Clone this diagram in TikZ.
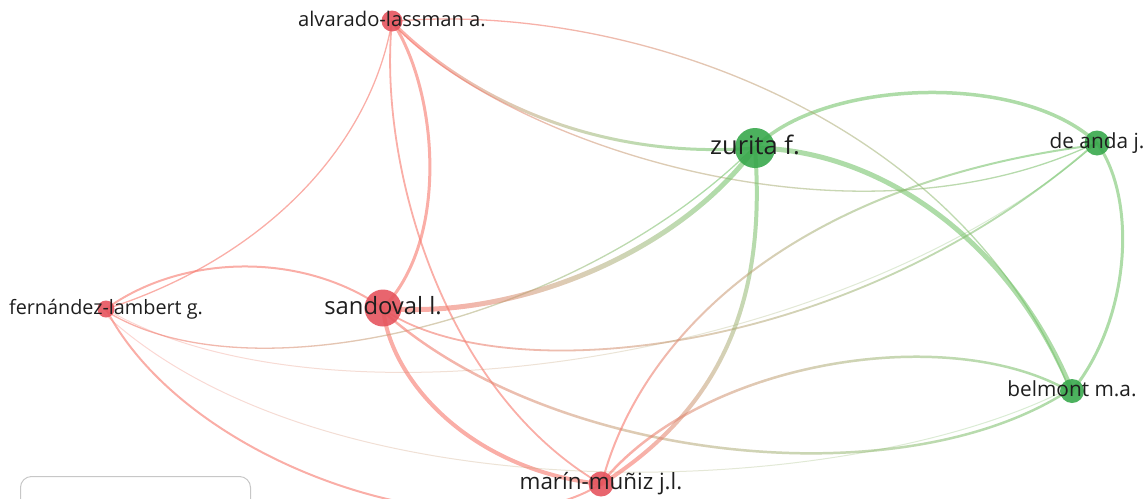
\documentclass[tikz,border=0pt]{standalone}
\usepackage{fontspec}
\setmainfont{Open Sans}
\usetikzlibrary{fadings}
\definecolor{er}{RGB}{246,120,108}
\definecolor{eg}{RGB}{120,196,110}
\definecolor{nr}{RGB}{230,84,94}
\definecolor{ng}{RGB}{56,168,76}
\definecolor{txt}{RGB}{30,30,30}
\tikzfading[name=fadeR, left color=transparent!0, right color=transparent!100]
\tikzfading[name=fadeG, left color=transparent!100, right color=transparent!0]
\pgfdeclarelayer{edges}
\pgfsetlayers{edges,main}
\newcommand\mixedge[6][0.6]{%
  \draw[re, draw opacity=#1, line width=#2, path fading=fadeR, fading angle=#3] (#4.center) .. controls #5 .. (#6.center);
  \draw[ge, draw opacity=#1, line width=#2, path fading=fadeG, fading angle=#3] (#4.center) .. controls #5 .. (#6.center);}
\begin{document}
\begin{tikzpicture}[x=1pt,y=-1pt,
  re/.style={draw=er, draw opacity=0.6, line cap=round},
  ge/.style={draw=eg, draw opacity=0.6, line cap=round},
  rnode/.style={circle, fill=nr, fill opacity=0.9, inner sep=0pt, minimum size=#1},
  gnode/.style={circle, fill=ng, fill opacity=0.9, inner sep=0pt, minimum size=#1},
  lbl/.style={text=txt, inner sep=0pt, anchor=base}]
\useasboundingbox (0,0) rectangle (1148,498);
\clip (0,0) rectangle (1148,498);
% nodes
\node[rnode=21pt] (A) at (392,21) {};
\node[gnode=40pt] (Z) at (755,148) {};
\node[gnode=25pt] (D) at (1097,143) {};
\node[rnode=17pt] (F) at (106,309) {};
\node[rnode=37pt] (S) at (383,308) {};
\node[gnode=24pt] (B) at (1072,391) {};
\node[rnode=25pt] (M) at (601,484) {};
% labels
\node[lbl, font=\fontsize{20.2}{24}\selectfont] (lA) at ([yshift=-5pt]A.center) {alvarado-lassman a.};
\node[lbl, font=\fontsize{25.5}{30}\selectfont] (lZ) at ([yshift=-6pt]Z.center) {zurita f.};
\node[lbl, font=\fontsize{20.8}{25}\selectfont] (lD) at ([yshift=-5pt]D.center) {de anda j.};
\node[lbl, font=\fontsize{19.8}{23}\selectfont] (lF) at ([yshift=-5pt]F.center) {fernández-lambert g.};
\node[lbl, font=\fontsize{23.8}{28}\selectfont] (lS) at ([yshift=-6pt]S.center) {sandoval l.};
\node[lbl, font=\fontsize{20.8}{25}\selectfont] (lB) at ([yshift=-5pt]B.center) {belmont m.a.};
\node[lbl, font=\fontsize{22.4}{26}\selectfont] (lM) at ([yshift=-5pt]M.center) {marín-muñiz j.l.};
% legend box
\node[draw=black!22, line width=1pt, rounded corners=11pt, minimum width=230pt, minimum height=50pt, anchor=north west] (legend) at (20,476) {};
\begin{pgfonlayer}{edges}
% red edges
\draw[re, line width=3] (A.center) .. controls (438,90) and (450,240) .. (S.center);
\draw[re, line width=1.3] (A.center) .. controls (370,150) and (260,260) .. (F.center);
\draw[re, line width=1.8] (A.center) .. controls (378,160) and (440,390) .. (M.center);
\draw[re, line width=2] (F.center) .. controls (180,255) and (300,250) .. (S.center);
\draw[re, line width=2] (F.center) .. controls (190,470) and (480,560) .. (M.center);
\draw[re, line width=4] (S.center) .. controls (390,380) and (470,470) .. (M.center);
% green edges
\draw[ge, line width=3.5] (Z.center) .. controls (820,80) and (1020,70) .. (D.center);
\draw[ge, line width=5] (Z.center) .. controls (880,150) and (1010,240) .. (B.center);
\draw[ge, line width=3] (D.center) .. controls (1138,200) and (1130,320) .. (B.center);
% mixed edges
\mixedge{3}{-19}{A}{(470,100) and (600,160)}{Z}
\mixedge{1.3}{-9.5}{A}{(500,140) and (850,260)}{D}
\mixedge{1.3}{-28.5}{A}{(620,0) and (960,110)}{B}
\mixedge{1.3}{13.8}{F}{(250,400) and (580,320)}{Z}
\mixedge[0.3]{1}{9.6}{F}{(330,440) and (850,360)}{D}
\mixedge[0.3]{1}{-4.9}{F}{(330,520) and (850,500)}{B}
\mixedge{5}{23}{S}{(520,320) and (680,250)}{Z}
\mixedge{1.8}{13}{S}{(500,390) and (850,360)}{D}
\mixedge{2.5}{-7}{S}{(550,460) and (900,500)}{B}
\mixedge{4}{65}{M}{(735,400) and (765,280)}{Z}
\mixedge{2}{34.5}{M}{(640,330) and (800,180)}{D}
\mixedge{2.5}{11}{M}{(700,360) and (950,320)}{B}
\end{pgfonlayer}
\end{tikzpicture}
\end{document}
